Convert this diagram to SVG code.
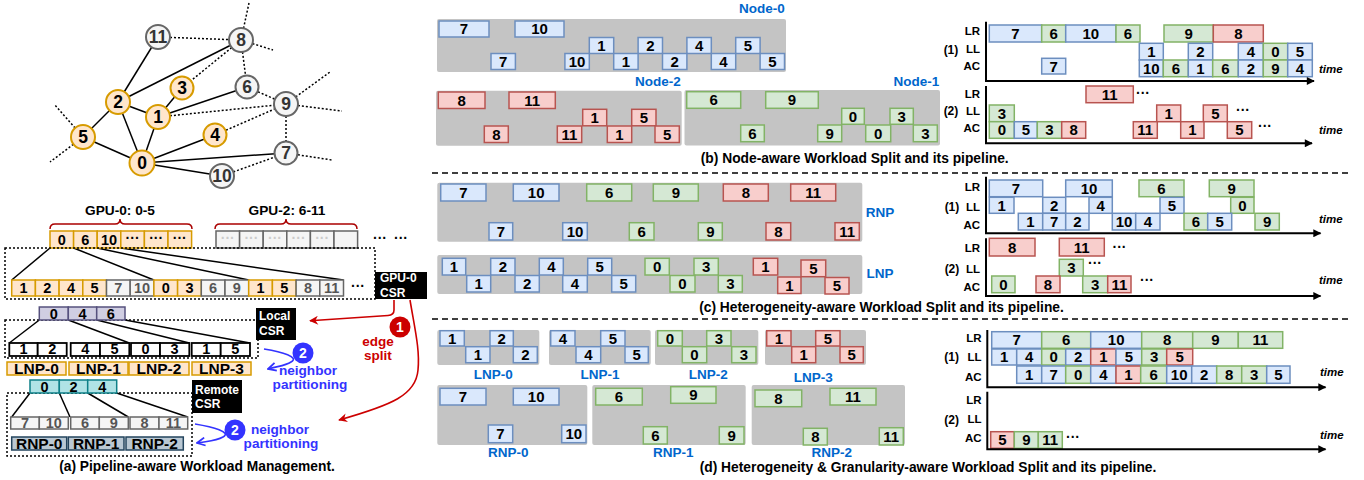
<svg xmlns="http://www.w3.org/2000/svg" width="1364" height="480" viewBox="0 0 1364 480">
<defs>
<style>
text{font-family:"Liberation Sans",Arial,Helvetica,sans-serif;font-weight:bold}
.c{text-anchor:middle}
.b{fill:#dae8fc;stroke:#6c8ebf;stroke-width:1.5}
.g{fill:#d5e8d4;stroke:#82b366;stroke-width:1.5}
.r{fill:#f8cecc;stroke:#b85450;stroke-width:1.5}
.o{fill:#ffe6cc;stroke:#d79b00;stroke-width:1.5}
.gy{fill:#f5f5f5;stroke:#666;stroke-width:1.5}
.pu{fill:#d0cee2;stroke:#56517e;stroke-width:1.5}
.te{fill:#b0e3e6;stroke:#0e8088;stroke-width:1.5}
.bs{fill:#bac8d3;stroke:#23445d;stroke-width:1.5}
.wh{fill:#fff;stroke:#000;stroke-width:1.8}
.bg{fill:#c4c4c4}
.n{font-size:15px;text-anchor:middle;fill:#000}
.s{font-size:14.5px;text-anchor:middle}
.pl2{font-size:15.5px;text-anchor:middle}
.lb{font-size:11.5px;text-anchor:end}
.pl{font-size:12px;text-anchor:end}
.tm{font-size:11.5px;font-style:italic}
.nl{font-size:13.5px;fill:#0066cc;text-anchor:middle}
.cap{font-size:13.8px;text-anchor:middle}
.dots{font-size:14px;text-anchor:middle}
.ax{fill:none;stroke:#000;stroke-width:2}
.sol{stroke:#000;stroke-width:1.5}
.dot{stroke:#000;stroke-width:1.5;stroke-dasharray:2 2}
.ln{stroke:#000;stroke-width:1.5;fill:none}
.box{fill:#000}
.wt{font-size:12px;fill:#fff}
.vo{fill:#ffe6cc;stroke:#d79b00;stroke-width:2}
.vg{fill:#f5f5f5;stroke:#666;stroke-width:2}
.vt{font-size:17.5px;text-anchor:middle}
.bl{fill:#3333ff}
.rd{fill:#cc0000}
</style>
<marker id="axh" viewBox="0 0 10 10" refX="9" refY="5" markerWidth="10" markerHeight="8" markerUnits="userSpaceOnUse" orient="auto"><path d="M0,0L10,5L0,10z" fill="#000"/></marker>
<marker id="rh" viewBox="0 0 10 10" refX="9" refY="5" markerWidth="10" markerHeight="9" markerUnits="userSpaceOnUse" orient="auto"><path d="M0,0L10,5L0,10L3,5z" fill="#cc0000"/></marker>
<marker id="bh" viewBox="0 0 10 10" refX="9" refY="5" markerWidth="10" markerHeight="10" markerUnits="userSpaceOnUse" orient="auto"><path d="M1,1L9,5L1,9" fill="none" stroke="#3333ff" stroke-width="1.8"/></marker>
</defs>
<rect width="1364" height="480" fill="#fff"/>

<!-- ===== Graph connectors ===== -->
<g id="connectors">
<g id="graph-edges">
<line class="sol" x1="118" y1="102" x2="158" y2="37"/>
<line class="sol" x1="118" y1="102" x2="241" y2="40"/>
<line class="sol" x1="118" y1="102" x2="158" y2="117"/>
<line class="sol" x1="118" y1="102" x2="83" y2="137"/>
<line class="sol" x1="118" y1="102" x2="142" y2="163"/>
<line class="sol" x1="158" y1="117" x2="182" y2="88"/>
<line class="sol" x1="158" y1="117" x2="247" y2="87"/>
<line class="sol" x1="158" y1="117" x2="142" y2="163"/>
<line class="sol" x1="83" y1="137" x2="142" y2="163"/>
<line class="sol" x1="142" y1="163" x2="215" y2="135"/>
<line class="sol" x1="142" y1="163" x2="286" y2="153"/>
<line class="sol" x1="142" y1="163" x2="222" y2="176"/>
<line class="dot" x1="158" y1="37" x2="241" y2="40"/>
<line class="dot" x1="241" y1="40" x2="182" y2="88"/>
<line class="dot" x1="241" y1="40" x2="247" y2="87"/>
<line class="dot" x1="241" y1="40" x2="249" y2="3"/>
<line class="dot" x1="241" y1="40" x2="273" y2="50"/>
<line class="dot" x1="158" y1="117" x2="286" y2="104"/>
<line class="dot" x1="215" y1="135" x2="286" y2="104"/>
<line class="dot" x1="247" y1="87" x2="286" y2="104"/>
<line class="dot" x1="286" y1="104" x2="330" y2="72"/>
<line class="dot" x1="286" y1="104" x2="342" y2="111"/>
<line class="dot" x1="286" y1="104" x2="286" y2="153"/>
<line class="dot" x1="286" y1="153" x2="332" y2="160"/>
<line class="dot" x1="222" y1="176" x2="286" y2="153"/>
<line class="dot" x1="83" y1="137" x2="55" y2="105"/>
<line class="dot" x1="83" y1="137" x2="50" y2="162"/>
</g>
<g id="csr-links">
<line class="ln" x1="50" y1="248" x2="11.7" y2="280"/>
<line class="ln" x1="73.6" y1="248" x2="153.9" y2="280"/>
<line class="ln" x1="97.2" y1="248" x2="248.7" y2="280"/>
<line class="ln" x1="120.8" y1="248" x2="343.5" y2="280"/>
<line class="ln" x1="39.3" y1="320" x2="9.3" y2="343"/>
<line class="ln" x1="68.3" y1="320" x2="129.3" y2="343"/>
<line class="ln" x1="96.7" y1="320" x2="189.3" y2="343"/>
<line class="ln" x1="125" y1="320" x2="250" y2="343"/>
<line class="ln" x1="30" y1="393" x2="11.7" y2="417"/>
<line class="ln" x1="59.3" y1="393" x2="70" y2="417"/>
<line class="ln" x1="87.7" y1="393" x2="128.3" y2="417"/>
<line class="ln" x1="116.7" y1="393" x2="187.7" y2="417"/>
</g>
<g id="flow-arrows">
<path d="M394,300L394,310Q394,315 388,315.5L310,320.8" fill="none" stroke="#cc0000" stroke-width="1.6" marker-end="url(#rh)"/>
<path d="M410,300C415,330 420,350 418,370C416,395 392,405 339,420" fill="none" stroke="#cc0000" stroke-width="1.6" marker-end="url(#rh)"/>
<path d="M264,349C282,352 300,357 291,362C285,366 278,366 268,369" fill="none" stroke="#3333ff" stroke-width="1.6" marker-end="url(#bh)"/>
<path d="M195,424C213,427 232,432 223,437C216,441 208,441 197,443" fill="none" stroke="#3333ff" stroke-width="1.6" marker-end="url(#bh)"/>
</g>
</g>

<!-- ===== Graph nodes ===== -->
<g id="graph-nodes">
<g id="v0"><circle class="vo" cx="142" cy="163" r="12.5"/><text class="vt" x="142" y="169.3">0</text></g>
<g id="v1"><circle class="vo" cx="158" cy="117" r="12"/><text class="vt" x="158" y="123.3">1</text></g>
<g id="v2"><circle class="vo" cx="118" cy="102" r="12"/><text class="vt" x="118" y="108.3">2</text></g>
<g id="v3"><circle class="vo" cx="182" cy="88" r="11.5"/><text class="vt" x="182" y="94.3">3</text></g>
<g id="v4"><circle class="vo" cx="215" cy="135" r="11.5"/><text class="vt" x="215" y="141.3">4</text></g>
<g id="v5"><circle class="vo" cx="83" cy="137" r="12"/><text class="vt" x="83" y="143.3">5</text></g>
<g id="v6"><circle class="vg" cx="247" cy="87" r="11.5"/><text class="vt" x="247" y="93.3" fill="#333">6</text></g>
<g id="v7"><circle class="vg" cx="286" cy="153" r="11.5"/><text class="vt" x="286" y="159.3" fill="#333">7</text></g>
<g id="v8"><circle class="vg" cx="241" cy="40" r="12"/><text class="vt" x="241" y="46.3" fill="#333">8</text></g>
<g id="v9"><circle class="vg" cx="286" cy="104" r="12"/><text class="vt" x="286" y="110.3" fill="#333">9</text></g>
<g id="v10"><circle class="vg" cx="222" cy="176" r="12"/><text class="vt" x="222" y="182.3" fill="#333">10</text></g>
<g id="v11"><circle class="vg" cx="158" cy="37" r="12"/><text class="vt" x="158" y="43.3" fill="#333">11</text></g>
</g>

<!-- ===== Panel (a) ===== -->
<g id="panel-a">
<text class="c" x="120" y="215" font-size="13.7">GPU-0: 0-5</text>
<text class="c" x="287" y="215" font-size="13.7">GPU-2: 6-11</text>
<path d="M50,229Q50,224 55,224L115,224Q120,224 120,219Q120,224 125,224L187,224Q192,224 192,229" fill="none" stroke="#a00" stroke-width="1.5"/>
<path d="M215,229Q215,224 220,224L281,224Q286,224 286,219Q286,224 291,224L352,224Q357,224 357,229" fill="none" stroke="#a00" stroke-width="1.5"/>
<g id="gpu0-offsets">
<rect class="o" x="50" y="231" width="23.6" height="17"/><text class="s" x="61.8" y="244.7">0</text>
<rect class="o" x="73.6" y="231" width="23.6" height="17"/><text class="s" x="85.4" y="244.7">6</text>
<rect class="o" x="97.2" y="231" width="23.6" height="17"/><text class="s" x="109" y="244.7">10</text>
<rect class="o" x="120.8" y="231" width="23.6" height="17"/><text class="dots" x="132.6" y="243">···</text>
<rect class="o" x="144.4" y="231" width="23.6" height="17"/><text class="dots" x="156.2" y="243">···</text>
<rect class="o" x="168" y="231" width="23.6" height="17"/><text class="dots" x="179.8" y="243">···</text>
</g>
<g id="gpu2-offsets">
<rect class="gy" x="216" y="231" width="23.6" height="17"/><text class="dots" x="227.8" y="243" fill="#ccc">···</text>
<rect class="gy" x="239.6" y="231" width="23.6" height="17"/><text class="dots" x="251.4" y="243" fill="#ccc">···</text>
<rect class="gy" x="263.2" y="231" width="23.6" height="17"/><text class="dots" x="275" y="243" fill="#ccc">···</text>
<rect class="gy" x="286.8" y="231" width="23.6" height="17"/><text class="dots" x="298.6" y="243" fill="#ccc">···</text>
<rect class="gy" x="310.4" y="231" width="23.6" height="17"/><text class="dots" x="322.2" y="243" fill="#ccc">···</text>
<rect class="gy" x="334" y="231" width="23.6" height="17"/>
</g>
<text class="dots" x="380" y="243">···</text>
<text class="dots" x="401" y="243">···</text>
<rect x="5" y="248" width="370" height="51" fill="none" stroke="#000" stroke-width="1.5" stroke-dasharray="2 2"/>
<g id="gpu0-neighbors">
<rect class="o" x="11.7" y="280" width="23.7" height="16"/><text class="s" x="23.55" y="293.2">1</text>
<rect class="o" x="35.4" y="280" width="23.7" height="16"/><text class="s" x="47.25" y="293.2">2</text>
<rect class="o" x="59.1" y="280" width="23.7" height="16"/><text class="s" x="70.95" y="293.2">4</text>
<rect class="o" x="82.8" y="280" width="23.7" height="16"/><text class="s" x="94.65" y="293.2">5</text>
<rect class="gy" x="106.5" y="280" width="23.7" height="16"/><text class="s" x="118.35" y="293.2" fill="#555">7</text>
<rect class="gy" x="130.2" y="280" width="23.7" height="16"/><text class="s" x="142.05" y="293.2" fill="#555">10</text>
<rect class="o" x="153.9" y="280" width="23.7" height="16"/><text class="s" x="165.75" y="293.2">0</text>
<rect class="o" x="177.6" y="280" width="23.7" height="16"/><text class="s" x="189.45" y="293.2">3</text>
<rect class="gy" x="201.3" y="280" width="23.7" height="16"/><text class="s" x="213.15" y="293.2" fill="#555">6</text>
<rect class="gy" x="225" y="280" width="23.7" height="16"/><text class="s" x="236.85" y="293.2" fill="#555">9</text>
<rect class="o" x="248.7" y="280" width="23.7" height="16"/><text class="s" x="260.55" y="293.2">1</text>
<rect class="o" x="272.4" y="280" width="23.7" height="16"/><text class="s" x="284.25" y="293.2">5</text>
<rect class="gy" x="296.1" y="280" width="23.7" height="16"/><text class="s" x="307.95" y="293.2" fill="#555">8</text>
<rect class="gy" x="319.8" y="280" width="23.7" height="16"/><text class="s" x="331.65" y="293.2" fill="#555">11</text>
</g>
<text class="dots" x="358" y="291">···</text>
<g id="gpu0-csr"><rect class="box" x="375" y="272" width="52" height="27"/><text class="wt" x="380" y="282">GPU-0</text><text class="wt" x="380" y="296.5">CSR</text></g>

<rect x="5" y="320" width="253" height="38" fill="none" stroke="#000" stroke-width="1.5" stroke-dasharray="2 2"/>
<g id="local-offsets">
<rect class="pu" x="39.3" y="307" width="29" height="13"/><text class="s" x="53.8" y="318.7">0</text>
<rect class="pu" x="68.3" y="307" width="28.4" height="13"/><text class="s" x="82.5" y="318.7">4</text>
<rect class="pu" x="96.7" y="307" width="28.3" height="13"/><text class="s" x="110.85" y="318.7">6</text>
</g>
<g id="local-csr"><rect class="box" x="256" y="308" width="40" height="32"/><text class="wt" x="259" y="320">Local</text><text class="wt" x="259" y="335">CSR</text></g>
<g id="local-neighbors">
<rect class="wh" x="9.3" y="343" width="28.4" height="13"/><text class="s" x="23.5" y="354.2" font-size="13.5">1</text>
<rect class="wh" x="37.7" y="343" width="29" height="13"/><text class="s" x="52.2" y="354.2" font-size="13.5">2</text>
<rect class="wh" x="70.7" y="343" width="29.3" height="13"/><text class="s" x="85.35" y="354.2" font-size="13.5">4</text>
<rect class="wh" x="100" y="343" width="29.3" height="13"/><text class="s" x="114.65" y="354.2" font-size="13.5">5</text>
<rect class="wh" x="131" y="343" width="29" height="13"/><text class="s" x="145.5" y="354.2" font-size="13.5">0</text>
<rect class="wh" x="160" y="343" width="29.3" height="13"/><text class="s" x="174.65" y="354.2" font-size="13.5">3</text>
<rect class="wh" x="191.7" y="343" width="29" height="13"/><text class="s" x="206.2" y="354.2" font-size="13.5">1</text>
<rect class="wh" x="220.7" y="343" width="29.3" height="13"/><text class="s" x="235.35" y="354.2" font-size="13.5">5</text>
</g>
<g id="lnp-row">
<rect class="o" x="7" y="362" width="59" height="13"/><text class="pl2" x="36.5" y="374">LNP-0</text>
<rect class="o" x="69" y="362" width="59" height="13"/><text class="pl2" x="98.5" y="374">LNP-1</text>
<rect class="o" x="129" y="362" width="60" height="13"/><text class="pl2" x="159" y="374">LNP-2</text>
<rect class="o" x="192" y="362" width="59" height="13"/><text class="pl2" x="221.5" y="374">LNP-3</text>
</g>

<rect x="7" y="393" width="185" height="63" fill="none" stroke="#000" stroke-width="1.5" stroke-dasharray="2 2"/>
<g id="remote-offsets">
<rect class="te" x="30" y="380" width="29.3" height="13"/><text class="s" x="44.65" y="391.7">0</text>
<rect class="te" x="59.3" y="380" width="28.4" height="13"/><text class="s" x="73.5" y="391.7">2</text>
<rect class="te" x="87.7" y="380" width="29" height="13"/><text class="s" x="102.2" y="391.7">4</text>
</g>
<g id="remote-csr"><rect class="box" x="192" y="380" width="50" height="33" /><text class="wt" x="195" y="393.5">Remote</text><text class="wt" x="195" y="407.5">CSR</text></g>
<g id="remote-neighbors">
<rect class="gy" x="10.7" y="417" width="28.6" height="12"/><text class="s" x="25" y="427.8" font-size="13.5" fill="#555">7</text>
<rect class="gy" x="39.3" y="417" width="29" height="12"/><text class="s" x="53.8" y="427.8" font-size="13.5" fill="#555">10</text>
<rect class="gy" x="70.7" y="417" width="28.6" height="12"/><text class="s" x="85" y="427.8" font-size="13.5" fill="#555">6</text>
<rect class="gy" x="99.3" y="417" width="29" height="12"/><text class="s" x="113.8" y="427.8" font-size="13.5" fill="#555">9</text>
<rect class="gy" x="130" y="417" width="29" height="12"/><text class="s" x="144.5" y="427.8" font-size="13.5" fill="#555">8</text>
<rect class="gy" x="159" y="417" width="28.7" height="12"/><text class="s" x="173.35" y="427.8" font-size="13.5" fill="#555">11</text>
</g>
<g id="rnp-row">
<rect class="bs" x="11.7" y="437" width="55" height="13"/><text class="pl2" x="39.2" y="449">RNP-0</text>
<rect class="bs" x="68.3" y="437" width="55.7" height="13"/><text class="pl2" x="96.15" y="449">RNP-1</text>
<rect class="bs" x="126" y="437" width="57.3" height="13"/><text class="pl2" x="154.65" y="449">RNP-2</text>
</g>

<g id="edge-split-label">
<circle class="rd" cx="400" cy="327" r="10.5"/><text class="c" x="400" y="332.3" font-size="14" fill="#fff">1</text>
<text class="c" x="378" y="346" font-size="13.5" fill="#cc0000">edge</text>
<text class="c" x="378" y="360" font-size="13.5" fill="#cc0000">split</text>
</g>
<g id="np-label-1">
<circle class="bl" cx="303" cy="353" r="10.5"/><text class="c" x="303" y="358.3" font-size="14" fill="#fff">2</text>
<text class="c" x="308" y="374.5" font-size="13.6" fill="#3333ff">neighbor</text>
<text class="c" x="310" y="388.5" font-size="13.6" fill="#3333ff">partitioning</text>
</g>
<g id="np-label-2">
<circle class="bl" cx="235" cy="430" r="10.5"/><text class="c" x="235" y="435.3" font-size="14" fill="#fff">2</text>
<text class="c" x="280" y="434" font-size="13.6" fill="#3333ff">neighbor</text>
<text class="c" x="281" y="448" font-size="13.6" fill="#3333ff">partitioning</text>
</g>
<text class="cap" x="197" y="471">(a) Pipeline-aware Workload Management.</text>
</g>

<!-- separators -->
<line x1="432" y1="173" x2="1350" y2="173" stroke="#000" stroke-width="1.5" stroke-dasharray="6 4"/>
<line x1="432" y1="319" x2="1350" y2="319" stroke="#000" stroke-width="1.5" stroke-dasharray="6 4"/>

<!-- ===== Panel (b) ===== -->
<g id="panel-b">
<g id="node0">
<text class="nl" x="762" y="13.3">Node-0</text>
<rect class="bg" x="437" y="19" width="349" height="53" rx="2"/>
<rect class="b" x="439" y="21" width="50" height="16"/><text class="n" x="464" y="34.3">7</text>
<rect class="b" x="515" y="21" width="49" height="16"/><text class="n" x="539.5" y="34.3">10</text>
<rect class="b" x="589.3" y="37.5" width="24.4" height="16"/><text class="n" x="601.5" y="50.8">1</text>
<rect class="b" x="638.1" y="37.5" width="24.4" height="16"/><text class="n" x="650.3" y="50.8">2</text>
<rect class="b" x="686.9" y="37.5" width="24.4" height="16"/><text class="n" x="699.1" y="50.8">4</text>
<rect class="b" x="735.7" y="37.5" width="24.4" height="16"/><text class="n" x="747.9" y="50.8">5</text>
<rect class="b" x="491" y="53.5" width="24.4" height="16"/><text class="n" x="503.2" y="66.8">7</text>
<rect class="b" x="564.9" y="53.5" width="24.4" height="16"/><text class="n" x="577.1" y="66.8">10</text>
<rect class="b" x="613.7" y="53.5" width="24.4" height="16"/><text class="n" x="625.9" y="66.8">1</text>
<rect class="b" x="662.5" y="53.5" width="24.4" height="16"/><text class="n" x="674.7" y="66.8">2</text>
<rect class="b" x="711.3" y="53.5" width="24.4" height="16"/><text class="n" x="723.5" y="66.8">4</text>
<rect class="b" x="760.1" y="53.5" width="24.4" height="16"/><text class="n" x="772.3" y="66.8">5</text>
</g>
<g id="node2">
<text class="nl" x="658" y="86">Node-2</text>
<rect class="bg" x="436" y="90.7" width="245.7" height="55" rx="2"/>
<rect class="r" x="438.3" y="92" width="46.7" height="16.5"/><text class="n" x="461.6" y="105.5">8</text>
<rect class="r" x="509" y="92" width="46.3" height="16.5"/><text class="n" x="532.2" y="105.5">11</text>
<rect class="r" x="582.7" y="109.3" width="24" height="16.5"/><text class="n" x="594.7" y="122.9">1</text>
<rect class="r" x="631.7" y="109.3" width="24.3" height="16.5"/><text class="n" x="643.8" y="122.9">5</text>
<rect class="r" x="484.3" y="126" width="24" height="16.5"/><text class="n" x="496.3" y="139.6">8</text>
<rect class="r" x="557.3" y="126" width="24.4" height="16.5"/><text class="n" x="569.5" y="139.6">11</text>
<rect class="r" x="607.3" y="126" width="24.4" height="16.5"/><text class="n" x="619.5" y="139.6">1</text>
<rect class="r" x="655" y="126" width="24.3" height="16.5"/><text class="n" x="667.1" y="139.6">5</text>
</g>
<g id="node1">
<text class="nl" x="916.5" y="86">Node-1</text>
<rect class="bg" x="684.5" y="90" width="255.5" height="55.5" rx="2"/>
<rect class="g" x="686.7" y="91.7" width="54" height="16.6"/><text class="n" x="713.7" y="105.3">6</text>
<rect class="g" x="765.7" y="91.7" width="52.6" height="16.6"/><text class="n" x="792" y="105.3">9</text>
<rect class="g" x="841.7" y="108.3" width="22.6" height="16"/><text class="n" x="853" y="121.6">0</text>
<rect class="g" x="890" y="108.3" width="23.3" height="16"/><text class="n" x="901.7" y="121.6">3</text>
<rect class="g" x="740.7" y="125" width="23.6" height="16.7"/><text class="n" x="752.5" y="138.6">6</text>
<rect class="g" x="817.7" y="125" width="24" height="16.7"/><text class="n" x="829.7" y="138.6">9</text>
<rect class="g" x="865.7" y="125" width="25" height="16.7"/><text class="n" x="878.2" y="138.6">0</text>
<rect class="g" x="913.3" y="125" width="24" height="16.7"/><text class="n" x="925.3" y="138.6">3</text>
</g>
<g id="pipe-b1">
<text class="lb" x="980" y="34.8">LR</text><text class="lb" x="980" y="53.4">LL</text><text class="lb" x="980" y="70.1">AC</text>
<text class="pl" x="958.3" y="53.6">(1)</text>
<rect class="b" x="989.3" y="25" width="52.4" height="17"/><text class="n" x="1015.5" y="38.8">7</text>
<rect class="g" x="1041.7" y="25" width="24" height="17"/><text class="n" x="1053.7" y="38.8">6</text>
<rect class="b" x="1065.7" y="25" width="50.3" height="17"/><text class="n" x="1090.85" y="38.8">10</text>
<rect class="g" x="1116" y="25" width="24" height="17"/><text class="n" x="1128" y="38.8">6</text>
<rect class="g" x="1164" y="25" width="49.3" height="17"/><text class="n" x="1188.65" y="38.8">9</text>
<rect class="r" x="1213.3" y="25" width="50" height="17"/><text class="n" x="1238.3" y="38.8">8</text>
<rect class="b" x="1139.3" y="43.3" width="24" height="16.7"/><text class="n" x="1151.3" y="57">1</text>
<rect class="b" x="1188.3" y="43.3" width="24.4" height="16.7"/><text class="n" x="1200.5" y="57">2</text>
<rect class="b" x="1238.3" y="43.3" width="25" height="16.7"/><text class="n" x="1250.8" y="57">4</text>
<rect class="g" x="1263.3" y="43.3" width="24.4" height="16.7"/><text class="n" x="1275.5" y="57">0</text>
<rect class="b" x="1287.7" y="43.3" width="24.6" height="16.7"/><text class="n" x="1300" y="57">5</text>
<rect class="b" x="1041.7" y="58.3" width="24" height="15.7"/><text class="n" x="1053.7" y="71.5">7</text>
<rect class="b" x="1139.3" y="60" width="24" height="16.7"/><text class="n" x="1151.3" y="73.7">10</text>
<rect class="g" x="1163.3" y="60" width="25" height="16.7"/><text class="n" x="1175.8" y="73.7">6</text>
<rect class="b" x="1188.3" y="60" width="24.4" height="16.7"/><text class="n" x="1200.5" y="73.7">1</text>
<rect class="g" x="1212.7" y="60" width="25.6" height="16.7"/><text class="n" x="1225.5" y="73.7">6</text>
<rect class="b" x="1238.3" y="60" width="25" height="16.7"/><text class="n" x="1250.8" y="73.7">2</text>
<rect class="g" x="1263.3" y="60" width="24.4" height="16.7"/><text class="n" x="1275.5" y="73.7">9</text>
<rect class="b" x="1287.7" y="60" width="24.6" height="16.7"/><text class="n" x="1300" y="73.7">4</text>
<path class="ax" d="M986,21.7V81H1314" marker-end="url(#axh)"/>
<text class="tm" x="1319" y="73.1">time</text>
</g>
<g id="pipe-b2">
<text class="lb" x="980" y="98.4">LR</text><text class="lb" x="980" y="115.1">LL</text><text class="lb" x="980" y="131.8">AC</text>
<text class="pl" x="958.3" y="115.3">(2)</text>
<rect class="r" x="1086" y="86" width="47.3" height="16.7"/><text class="n" x="1109.65" y="99.7">11</text>
<text class="dots" x="1143" y="98">···</text>
<rect class="g" x="989.3" y="105" width="25" height="16.7"/><text class="n" x="1001.8" y="118.7">3</text>
<rect class="r" x="1156.7" y="105" width="24" height="16.7"/><text class="n" x="1168.7" y="118.7">1</text>
<rect class="r" x="1203.3" y="105" width="24" height="16.7"/><text class="n" x="1215.3" y="118.7">5</text>
<text class="dots" x="1243" y="115">···</text>
<rect class="g" x="989.3" y="121.7" width="25" height="16.6"/><text class="n" x="1001.8" y="135.3">0</text>
<rect class="b" x="1014.3" y="121.7" width="23" height="16.6"/><text class="n" x="1025.8" y="135.3">5</text>
<rect class="g" x="1037.3" y="121.7" width="24.4" height="16.6"/><text class="n" x="1049.5" y="135.3">3</text>
<rect class="r" x="1061.7" y="121.7" width="24" height="16.6"/><text class="n" x="1073.7" y="135.3">8</text>
<rect class="r" x="1133.3" y="121.7" width="24" height="16.6"/><text class="n" x="1145.3" y="135.3">11</text>
<rect class="r" x="1180.7" y="121.7" width="23.3" height="16.6"/><text class="n" x="1192.35" y="135.3">1</text>
<rect class="r" x="1227.3" y="121.7" width="24.4" height="16.6"/><text class="n" x="1239.5" y="135.3">5</text>
<text class="dots" x="1265" y="131">···</text>
<path class="ax" d="M986,86V143.3H1312" marker-end="url(#axh)"/>
<text class="tm" x="1319" y="134.1">time</text>
</g>
<text class="cap" x="854.7" y="163">(b) Node-aware Workload Split and its pipeline.</text>
</g>

<!-- ===== Panel (c) ===== -->
<g id="panel-c">
<g id="rnp-c">
<rect class="bg" x="437.3" y="182.7" width="425" height="59" rx="2"/>
<text class="nl" x="880" y="216.5">RNP</text>
<rect class="b" x="440.7" y="184" width="45.3" height="17"/><text class="n" x="463.35" y="197.8">7</text>
<rect class="b" x="513.3" y="184" width="45.7" height="17"/><text class="n" x="536.15" y="197.8">10</text>
<rect class="g" x="586.7" y="184" width="45" height="17"/><text class="n" x="609.2" y="197.8">6</text>
<rect class="g" x="653.3" y="184" width="45" height="17"/><text class="n" x="675.8" y="197.8">9</text>
<rect class="r" x="723.3" y="184" width="45" height="17"/><text class="n" x="745.8" y="197.8">8</text>
<rect class="r" x="790.7" y="184" width="45" height="17"/><text class="n" x="813.2" y="197.8">11</text>
<rect class="b" x="489" y="222.7" width="23.7" height="17.3"/><text class="n" x="500.85" y="236.6">7</text>
<rect class="b" x="562.7" y="222.7" width="24.6" height="17.3"/><text class="n" x="575" y="236.6">10</text>
<rect class="g" x="629.3" y="222.7" width="24.7" height="17.3"/><text class="n" x="641.65" y="236.6">6</text>
<rect class="g" x="698.3" y="222.7" width="24" height="17.3"/><text class="n" x="710.3" y="236.6">9</text>
<rect class="r" x="766" y="222.7" width="24.7" height="17.3"/><text class="n" x="778.35" y="236.6">8</text>
<rect class="r" x="835" y="222.7" width="24.3" height="17.3"/><text class="n" x="847.15" y="236.6">11</text>
</g>
<g id="lnp-c">
<rect class="bg" x="437.3" y="255" width="425" height="39" rx="2"/>
<text class="nl" x="880" y="278">LNP</text>
<rect class="b" x="442.3" y="258.3" width="23.4" height="16.7"/><text class="n" x="454" y="272">1</text>
<rect class="b" x="490.7" y="258.3" width="24.3" height="16.7"/><text class="n" x="502.85" y="272">2</text>
<rect class="b" x="539.3" y="258.3" width="24" height="16.7"/><text class="n" x="551.3" y="272">4</text>
<rect class="b" x="587.7" y="258.3" width="24" height="16.7"/><text class="n" x="599.7" y="272">5</text>
<rect class="g" x="645" y="258.3" width="24.3" height="16.7"/><text class="n" x="657.15" y="272">0</text>
<rect class="g" x="694" y="258.3" width="24.3" height="16.7"/><text class="n" x="706.15" y="272">3</text>
<rect class="r" x="753.3" y="258.3" width="24.4" height="16.7"/><text class="n" x="765.5" y="272">1</text>
<rect class="r" x="801" y="260" width="24.7" height="16.7"/><text class="n" x="813.35" y="273.7">5</text>
<rect class="b" x="466.7" y="275.5" width="24" height="16.5"/><text class="n" x="478.7" y="289">1</text>
<rect class="b" x="515" y="275.5" width="24.3" height="16.5"/><text class="n" x="527.15" y="289">2</text>
<rect class="b" x="562.7" y="275.5" width="24.6" height="16.5"/><text class="n" x="575" y="289">4</text>
<rect class="b" x="611.7" y="275.5" width="24" height="16.5"/><text class="n" x="623.7" y="289">5</text>
<rect class="g" x="670" y="275.5" width="25" height="16.5"/><text class="n" x="682.5" y="289">0</text>
<rect class="g" x="718.3" y="275.5" width="24" height="16.5"/><text class="n" x="730.3" y="289">3</text>
<rect class="r" x="777.7" y="277" width="23.3" height="16.5"/><text class="n" x="789.35" y="290.5">1</text>
<rect class="r" x="825" y="277.5" width="24" height="16.5"/><text class="n" x="837" y="291">5</text>
</g>
<g id="pipe-c1">
<text class="lb" x="980" y="190.8">LR</text><text class="lb" x="980" y="210.8">LL</text><text class="lb" x="980" y="229.1">AC</text>
<text class="pl" x="959.3" y="211">(1)</text>
<rect class="b" x="989.3" y="180" width="53.4" height="16.7"/><text class="n" x="1016" y="193.7">7</text>
<rect class="b" x="1065.7" y="180" width="46.6" height="16.7"/><text class="n" x="1089" y="193.7">10</text>
<rect class="g" x="1139" y="180" width="45" height="16.7"/><text class="n" x="1161.5" y="193.7">6</text>
<rect class="g" x="1209.3" y="180" width="44.7" height="16.7"/><text class="n" x="1231.65" y="193.7">9</text>
<rect class="b" x="989.3" y="197.3" width="24.7" height="16"/><text class="n" x="1001.65" y="210.6">1</text>
<rect class="b" x="1042.7" y="197.3" width="23" height="16"/><text class="n" x="1054.2" y="210.6">2</text>
<rect class="b" x="1089" y="197.3" width="23.3" height="16"/><text class="n" x="1100.65" y="210.6">4</text>
<rect class="b" x="1160" y="197.3" width="24" height="16"/><text class="n" x="1172" y="210.6">5</text>
<rect class="g" x="1230.7" y="197.3" width="23.3" height="16"/><text class="n" x="1242.35" y="210.6">0</text>
<rect class="b" x="1018.3" y="213.3" width="24.4" height="16.7"/><text class="n" x="1030.5" y="227">1</text>
<rect class="b" x="1042.7" y="213.3" width="23" height="16.7"/><text class="n" x="1054.2" y="227">7</text>
<rect class="b" x="1065.7" y="213.3" width="23.3" height="16.7"/><text class="n" x="1077.35" y="227">2</text>
<rect class="b" x="1112.3" y="213.3" width="23.4" height="16.7"/><text class="n" x="1124" y="227">10</text>
<rect class="b" x="1135.7" y="213.3" width="24.3" height="16.7"/><text class="n" x="1147.85" y="227">4</text>
<rect class="g" x="1184" y="213.3" width="23.7" height="16.7"/><text class="n" x="1195.85" y="227">6</text>
<rect class="b" x="1207.7" y="213.3" width="24" height="16.7"/><text class="n" x="1219.7" y="227">5</text>
<rect class="g" x="1255" y="213.3" width="24.3" height="16.7"/><text class="n" x="1267.15" y="227">9</text>
<path class="ax" d="M986,176.7V233.3H1320.5" marker-end="url(#axh)"/>
<text class="tm" x="1319" y="223.4">time</text>
</g>
<g id="pipe-c2">
<text class="lb" x="980" y="252.4">LR</text><text class="lb" x="980" y="273.1">LL</text><text class="lb" x="980" y="291.4">AC</text>
<text class="pl" x="959.3" y="273.3">(2)</text>
<rect class="r" x="989.3" y="238.3" width="45.7" height="17.7"/><text class="n" x="1012.15" y="252.5">8</text>
<rect class="r" x="1059.3" y="238.3" width="45" height="17.7"/><text class="n" x="1081.8" y="252.5">11</text>
<text class="dots" x="1119.5" y="252">···</text>
<rect class="g" x="1059.3" y="259.3" width="24" height="16.7"/><text class="n" x="1071.3" y="273">3</text>
<text class="dots" x="1095" y="268">···</text>
<rect class="g" x="991.7" y="276" width="23.3" height="16.7"/><text class="n" x="1003.35" y="289.7">0</text>
<rect class="r" x="1036" y="276" width="24" height="16.7"/><text class="n" x="1048" y="289.7">8</text>
<rect class="g" x="1082.7" y="276" width="25" height="16.7"/><text class="n" x="1095.2" y="289.7">3</text>
<rect class="r" x="1107.7" y="276" width="23.3" height="16.7"/><text class="n" x="1119.35" y="289.7">11</text>
<text class="dots" x="1147" y="284.7">···</text>
<path class="ax" d="M986,238.3V296H1320.5" marker-end="url(#axh)"/>
<text class="tm" x="1319" y="284.1">time</text>
</g>
<text class="cap" x="881.5" y="312">(c) Heterogeneity-aware Workload Split and its pipeline.</text>
</g>

<!-- ===== Panel (d) ===== -->
<g id="panel-d">
<g id="lnp0-d">
<rect class="bg" x="437.3" y="330" width="102" height="35" rx="2"/>
<rect class="b" x="440" y="330.7" width="24.3" height="15.3"/><text class="n" x="452.15" y="343.6">1</text>
<rect class="b" x="490" y="330.7" width="23.3" height="15.3"/><text class="n" x="501.65" y="343.6">2</text>
<rect class="b" x="465.7" y="346.7" width="24.3" height="16"/><text class="n" x="477.85" y="360">1</text>
<rect class="b" x="513.3" y="346.7" width="24" height="16"/><text class="n" x="525.3" y="360">2</text>
<text class="nl" x="493.3" y="379">LNP-0</text>
</g>
<g id="lnp1-d">
<rect class="bg" x="549" y="330" width="101.7" height="35" rx="2"/>
<rect class="b" x="550.7" y="330.7" width="24.3" height="15.3"/><text class="n" x="562.85" y="343.6">4</text>
<rect class="b" x="600.7" y="330.7" width="24.3" height="15.3"/><text class="n" x="612.85" y="343.6">5</text>
<rect class="b" x="576" y="346.7" width="24.7" height="16"/><text class="n" x="588.35" y="360">4</text>
<rect class="b" x="625" y="346.7" width="23.3" height="16"/><text class="n" x="636.65" y="360">5</text>
<text class="nl" x="600" y="379">LNP-1</text>
</g>
<g id="lnp2-d">
<rect class="bg" x="655" y="330" width="103.3" height="35" rx="2"/>
<rect class="g" x="657.7" y="330.7" width="24.6" height="15.3"/><text class="n" x="670" y="343.6">0</text>
<rect class="g" x="706.7" y="330.7" width="24.3" height="15.3"/><text class="n" x="718.85" y="343.6">3</text>
<rect class="g" x="682.3" y="346.7" width="24.4" height="16"/><text class="n" x="694.5" y="360">0</text>
<rect class="g" x="731.7" y="346.7" width="24.3" height="16"/><text class="n" x="743.85" y="360">3</text>
<text class="nl" x="708.3" y="379">LNP-2</text>
</g>
<g id="lnp3-d">
<rect class="bg" x="765" y="330" width="101" height="35" rx="2"/>
<rect class="r" x="766.7" y="330.7" width="24.3" height="15.3"/><text class="n" x="778.85" y="343.6">1</text>
<rect class="r" x="815.7" y="330.7" width="24.3" height="15.3"/><text class="n" x="827.85" y="343.6">5</text>
<rect class="r" x="791.7" y="346.7" width="24" height="16"/><text class="n" x="803.7" y="360">1</text>
<rect class="r" x="840" y="346.7" width="23.3" height="16"/><text class="n" x="851.65" y="360">5</text>
<text class="nl" x="813.3" y="381.5">LNP-3</text>
</g>
<g id="rnp0-d">
<rect class="bg" x="437.3" y="385" width="150" height="60" rx="2"/>
<rect class="b" x="440" y="388.3" width="46" height="16.7"/><text class="n" x="463" y="402">7</text>
<rect class="b" x="513.3" y="388.3" width="45.7" height="16.7"/><text class="n" x="536.15" y="402">10</text>
<rect class="b" x="488.3" y="425" width="24.4" height="17.7"/><text class="n" x="500.5" y="439.2">7</text>
<rect class="b" x="561.7" y="425" width="24.3" height="17.7"/><text class="n" x="573.85" y="439.2">10</text>
<text class="nl" x="508.3" y="456.7">RNP-0</text>
</g>
<g id="rnp1-d">
<rect class="bg" x="592.3" y="385" width="153.4" height="60" rx="2"/>
<rect class="g" x="595.7" y="388.3" width="46.6" height="16.7"/><text class="n" x="619" y="402">6</text>
<rect class="g" x="670.7" y="386.7" width="45.3" height="16.6"/><text class="n" x="693.35" y="400.3">9</text>
<rect class="g" x="643.3" y="426.7" width="24" height="17.3"/><text class="n" x="655.3" y="440.7">6</text>
<rect class="g" x="719.3" y="426.7" width="24.7" height="17.3"/><text class="n" x="731.65" y="440.7">9</text>
<text class="nl" x="673.3" y="456.7">RNP-1</text>
</g>
<g id="rnp2-d">
<rect class="bg" x="751.7" y="385" width="153.3" height="60" rx="2"/>
<rect class="g" x="755" y="390" width="46.7" height="16.7"/><text class="n" x="778.35" y="403.7">8</text>
<rect class="g" x="830" y="388.3" width="46" height="16.7"/><text class="n" x="853" y="402">11</text>
<rect class="g" x="803.3" y="428.3" width="24" height="16.7"/><text class="n" x="815.3" y="442">8</text>
<rect class="g" x="879.3" y="427.7" width="24" height="17.3"/><text class="n" x="891.3" y="441.7">11</text>
<text class="nl" x="831.7" y="456.7">RNP-2</text>
</g>
<g id="pipe-d1">
<text class="lb" x="981.5" y="342.4">LR</text><text class="lb" x="981.5" y="360.8">LL</text><text class="lb" x="981.5" y="381.4">AC</text>
<text class="pl" x="959" y="361">(1)</text>
<rect class="b" x="991.7" y="331.7" width="50" height="16.6"/><text class="n" x="1016.7" y="345.3">7</text>
<rect class="g" x="1041.7" y="331.7" width="49" height="16.6"/><text class="n" x="1066.2" y="345.3">6</text>
<rect class="b" x="1090.7" y="331.7" width="51" height="16.6"/><text class="n" x="1116.2" y="345.3">10</text>
<rect class="g" x="1141.7" y="331.7" width="51" height="16.6"/><text class="n" x="1167.2" y="345.3">8</text>
<rect class="g" x="1192.7" y="331.7" width="45.6" height="16.6"/><text class="n" x="1215.5" y="345.3">9</text>
<rect class="g" x="1238.3" y="331.7" width="44.4" height="16.6"/><text class="n" x="1260.5" y="345.3">11</text>
<rect class="b" x="991.7" y="349" width="25" height="16"/><text class="n" x="1004.2" y="362.3">1</text>
<rect class="b" x="1016.7" y="349" width="25" height="16"/><text class="n" x="1029.2" y="362.3">4</text>
<rect class="g" x="1041.7" y="349" width="24" height="16"/><text class="n" x="1053.7" y="362.3">0</text>
<rect class="b" x="1065.7" y="349" width="25" height="16"/><text class="n" x="1078.2" y="362.3">2</text>
<rect class="r" x="1090.7" y="349" width="25.3" height="16"/><text class="n" x="1103.35" y="362.3">1</text>
<rect class="b" x="1116" y="349" width="25.7" height="16"/><text class="n" x="1128.85" y="362.3">5</text>
<rect class="g" x="1141.7" y="349" width="25" height="16"/><text class="n" x="1154.2" y="362.3">3</text>
<rect class="r" x="1166.7" y="349" width="26" height="16"/><text class="n" x="1179.7" y="362.3">5</text>
<rect class="b" x="1016.7" y="366" width="25" height="17.3"/><text class="n" x="1029.2" y="380">1</text>
<rect class="b" x="1041.7" y="366" width="24" height="17.3"/><text class="n" x="1053.7" y="380">7</text>
<rect class="g" x="1065.7" y="366" width="25" height="17.3"/><text class="n" x="1078.2" y="380">0</text>
<rect class="b" x="1090.7" y="366" width="25.3" height="17.3"/><text class="n" x="1103.35" y="380">4</text>
<rect class="r" x="1116" y="366" width="24.7" height="17.3"/><text class="n" x="1128.35" y="380">1</text>
<rect class="g" x="1140.7" y="366" width="26" height="17.3"/><text class="n" x="1153.7" y="380">6</text>
<rect class="b" x="1166.7" y="366" width="25" height="17.3"/><text class="n" x="1179.2" y="380">10</text>
<rect class="b" x="1191.7" y="366" width="25" height="17.3"/><text class="n" x="1204.2" y="380">2</text>
<rect class="g" x="1216.7" y="366" width="25" height="17.3"/><text class="n" x="1229.2" y="380">8</text>
<rect class="g" x="1241.7" y="366" width="25" height="17.3"/><text class="n" x="1254.2" y="380">3</text>
<rect class="b" x="1266.7" y="366" width="23.3" height="17.3"/><text class="n" x="1278.35" y="380">5</text>
<path class="ax" d="M987.3,330V387.3H1325.5" marker-end="url(#axh)"/>
<text class="tm" x="1320" y="375.8">time</text>
</g>
<g id="pipe-d2">
<text class="lb" x="981.5" y="404.1">LR</text><text class="lb" x="981.5" y="423.4">LL</text><text class="lb" x="981.5" y="442.4">AC</text>
<text class="pl" x="959" y="423.6">(2)</text>
<rect class="r" x="990.7" y="431.7" width="23.6" height="16.6"/><text class="n" x="1002.5" y="445.3">5</text>
<rect class="g" x="1014.3" y="431.7" width="24" height="16.6"/><text class="n" x="1026.3" y="445.3">9</text>
<rect class="g" x="1038.3" y="431.7" width="24" height="16.6"/><text class="n" x="1050.3" y="445.3">11</text>
<text class="dots" x="1073" y="442">···</text>
<path class="ax" d="M987.3,391.7V449.3H1325.5" marker-end="url(#axh)"/>
<text class="tm" x="1320" y="439.1">time</text>
</g>
<text class="cap" x="928" y="472">(d) Heterogeneity &amp; Granularity-aware Workload Split and its pipeline.</text>
</g>
</svg>
